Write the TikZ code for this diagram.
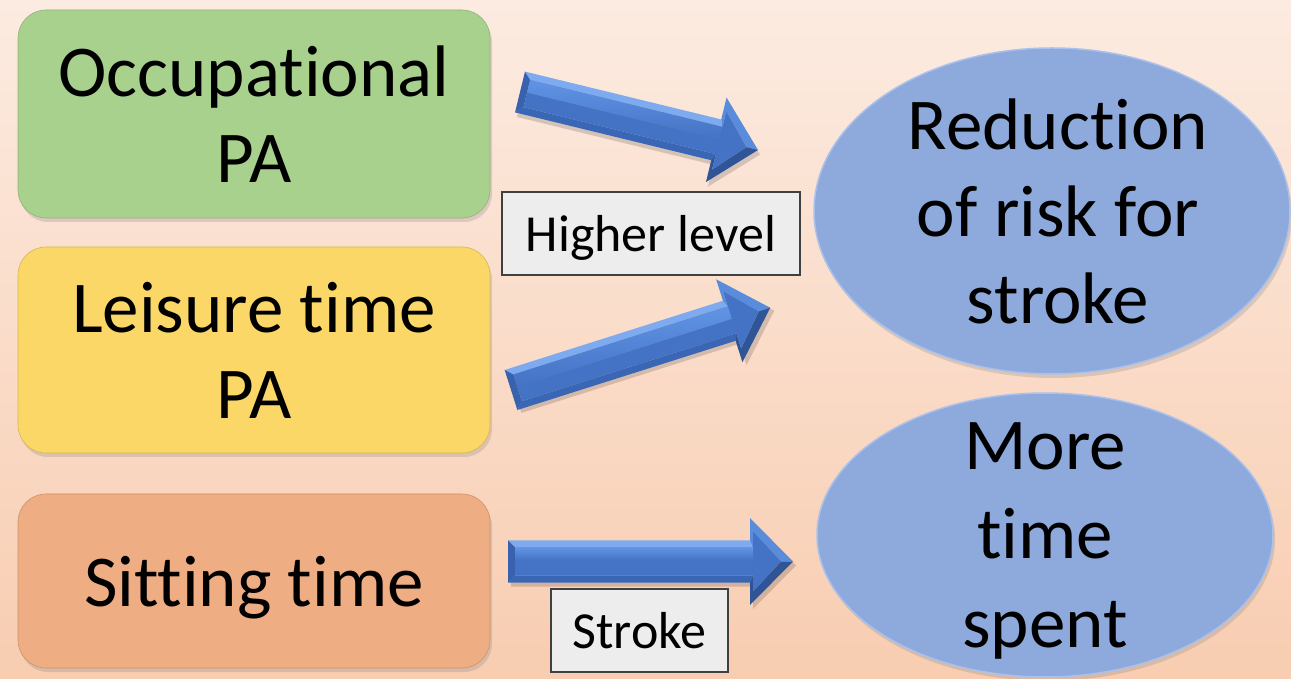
\documentclass[tikz,border=0pt]{standalone}
\usepackage{fontspec}
\setmainfont[Ligatures=NoCommon,RawFeature={-liga;-clig}]{Carlito}
\usetikzlibrary{shapes.geometric,shadows}
\definecolor{bgtop}{HTML}{FCEBE1}
\definecolor{bgbot}{HTML}{F8CDB1}
\definecolor{grn}{HTML}{A9D18E}
\definecolor{ylw}{HTML}{FAD766}
\definecolor{org}{HTML}{EFAD83}
\definecolor{ell}{HTML}{8EA9DB}
\definecolor{ellrim}{HTML}{A9C1EC}
\definecolor{blu}{HTML}{4472C4}
\definecolor{bluhi}{HTML}{6194E4}
\definecolor{atop}{HTML}{7EAAF0}
\definecolor{aleft}{HTML}{3862AE}
\definecolor{abot}{HTML}{3A66B6}
\definecolor{ahu}{HTML}{5A8CDC}
\definecolor{ahl}{HTML}{2F5597}
\definecolor{lblfill}{HTML}{EDEDED}
\definecolor{lbldraw}{HTML}{404040}
\tikzset{
  bigtxt/.style={font=\fontsize{73}{86}\selectfont, align=center, inner sep=0pt},
  pabox/.style={rounded corners=28pt, minimum width=472pt, inner sep=0pt,
    bigtxt, drop shadow={shadow xshift=2pt, shadow yshift=-4pt, opacity=0.25}},
  ellip/.style={ellipse, fill=ell, draw=ellrim, line width=1.5pt, inner sep=0pt,
    drop shadow={shadow xshift=2pt, shadow yshift=-4pt, opacity=0.25}},
  lbl/.style={fill=lblfill, draw=lbldraw, line width=2.5pt, inner sep=0pt,
    minimum height=83pt, text depth=0pt, font=\fontsize{52}{60}\selectfont},
  barrow/.pic={
    \begin{scope}[shift={(3pt,-4pt)}]
      \fill[black,opacity=0.15] (0,21) -- ({#1-43},21) -- ({#1-43},43.5) -- (#1,0) -- ({#1-43},-43.5) -- ({#1-43},-21) -- (0,-21) -- cycle;
    \end{scope}
    \fill[atop] (0,21) -- ({#1-43},21) -- ({#1-40},14) -- (7,14) -- cycle;
    \fill[aleft] (0,21) -- (7,14) -- (7,-14) -- (0,-21) -- cycle;
    \fill[abot] (0,-21) -- ({#1-43},-21) -- ({#1-40},-14) -- (7,-14) -- cycle;
    \fill[ahu] ({#1-43},21) -- ({#1-43},43.5) -- (#1,0) -- ({#1-12},0) -- ({#1-40},30) -- ({#1-40},14) -- cycle;
    \fill[ahl] (#1,0) -- ({#1-43},-43.5) -- ({#1-43},-21) -- ({#1-40},-14) -- ({#1-40},-30) -- ({#1-12},0) -- cycle;
    \fill[blu] (7,14) -- ({#1-40},14) -- ({#1-40},30) -- ({#1-12},0) -- ({#1-40},-30) -- ({#1-40},-14) -- (7,-14) -- cycle;
    \shade[top color=bluhi, bottom color=blu] (7,14) -- ({#1-40},14) -- ({#1-40},1) -- (7,1) -- cycle;
  }
}
\begin{document}
\begin{tikzpicture}[x=1pt,y=1pt]
  \useasboundingbox (0,0) rectangle (1291,678);
  \shade[top color=bgtop, bottom color=bgbot] (0,0) rectangle (1291,678);

  % left boxes
  \node[pabox, fill=grn, draw=grn!85!black, line width=0.6pt, minimum height=208pt] (occ) at (254,564) {Occupational\\PA};
  \node[pabox, fill=ylw, draw=ylw!85!black, line width=0.6pt, minimum height=206pt] (lei) at (254,328) {Leisure time\\PA};
  \node[pabox, fill=org, draw=org!85!black, line width=0.6pt, minimum height=174pt, text depth=0pt] (sit) at (254,97) {Sitting time};

  % ellipses
  \node[ellip, minimum width=476pt, minimum height=326pt] (red) at (1052,467) {};
  \node[bigtxt, font=\fontsize{73}{87}\selectfont] (redt) at ([xshift=6pt]red.center) {Reduction\\of risk for\\stroke};
  \node[ellip, minimum width=456pt, minimum height=284pt] (more) at (1045,143) {};
  \node[bigtxt, font=\fontsize{73}{89}\selectfont, text depth=0pt] (moret) at (more.center) {More\\time\\spent};

  % block arrows
  \pic[rotate=-13.7] at (520,586) {barrow=245};
  \pic[rotate=17.6] at (511,288) {barrow=272};
  \pic at (508,116.5) {barrow=285};

  % labels
  \node[lbl, minimum width=298pt] (hl) at (651,444.5) {Higher level};
  \node[lbl, minimum width=177pt] (st) at (639.5,47.5) {Stroke};
\end{tikzpicture}
\end{document}
